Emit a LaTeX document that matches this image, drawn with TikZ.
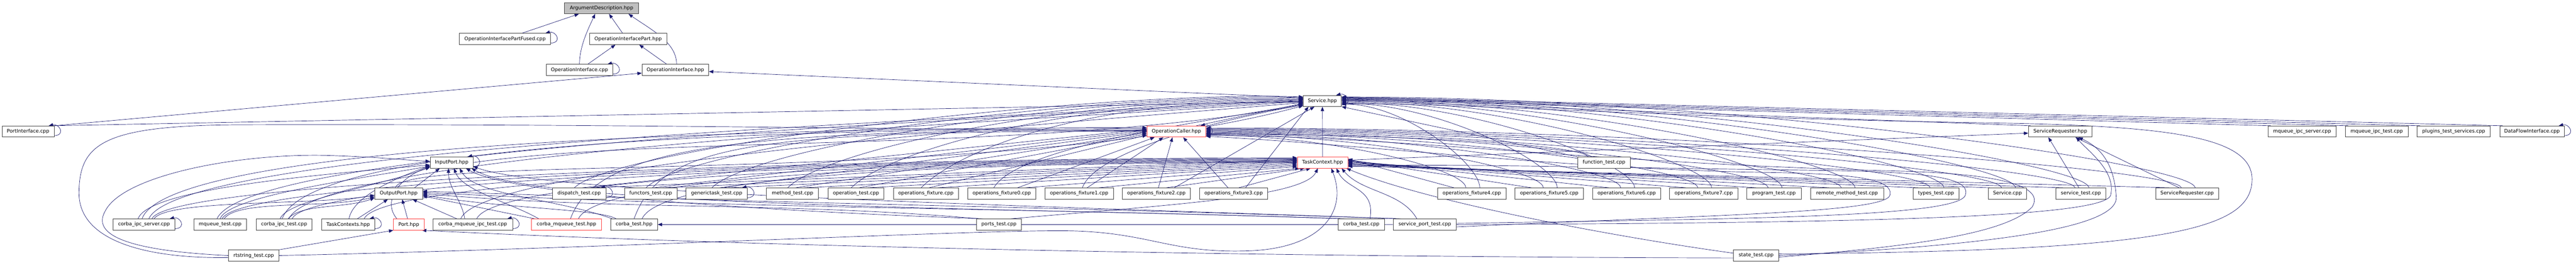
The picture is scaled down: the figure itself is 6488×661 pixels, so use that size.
\documentclass[tikz,border=0pt]{standalone}
\usepackage{fontspec}
\newfontfamily\dvs{DejaVu Sans}
\usetikzlibrary{arrows.meta}
\definecolor{edgeblue}{RGB}{25,25,112}
\definecolor{boxred}{RGB}{255,60,60}
\pgfdeclarelayer{bg}
\pgfsetlayers{bg,main}
\newcommand\Ln[2]{\draw[dep] (#1) -- (#2);}
\newcommand\Cv[6]{\draw[dep] (#1) .. controls +(#2:#4) and +(#3:#5) .. (#6);}
\newcommand\Lp[1]{\draw[dep] ([yshift=4]#1.south east) .. controls +(30,2) and +(26,6) .. ([xshift=-14]#1.north east);}
\begin{document}
\begin{tikzpicture}[x=1pt,y=1pt,
  nd/.style={draw=black!75,line width=1.1pt,fill=white,minimum height=28pt,inner sep=0pt,font=\dvs\fontsize{12.4}{14}\selectfont},
  hotbox/.style={draw=boxred},
  rootbox/.style={fill=gray!50},
  dep/.style={draw=edgeblue,line width=0.9pt,-{Triangle[length=11pt,width=8.5pt]}}]
\useasboundingbox (0,0) rectangle (6488,661);
% ---------------- nodes ----------------
\node[nd,rootbox,minimum width=186] (argdesc) at (1515,640.5) {ArgumentDescription.hpp};
\node[nd,minimum width=230] (oipfused) at (1272,563) {OperationInterfacePartFused.cpp};
\node[nd,minimum width=194] (oipart) at (1582,563) {OperationInterfacePart.hpp};
\node[nd,minimum width=168] (oicpp) at (1459.5,485) {OperationInterface.cpp};
\node[nd,minimum width=168] (oihpp) at (1701,485) {OperationInterface.hpp};
\node[nd,minimum width=96] (service) at (3330.6,407) {Service.hpp};
\node[nd,minimum width=131] (portif) at (70.7,330) {PortInterface.cpp};
\node[nd,hotbox,minimum width=148] (opcaller) at (2963,330) {OperationCaller.hpp};
\node[nd,minimum width=160] (srhpp) at (5189,330) {ServiceRequester.hpp};
\node[nd,minimum width=172] (mqipcserver) at (5798,330) {mqueue\_ipc\_server.cpp};
\node[nd,minimum width=158] (mqipctest) at (5986,330) {mqueue\_ipc\_test.cpp};
\node[nd,minimum width=184] (plugins) at (6180,330) {plugins\_test\_services.cpp};
\node[nd,minimum width=162] (dfi) at (6377,330) {DataFlowInterface.cpp};
\node[nd,minimum width=108] (inputport) at (1137.5,252) {InputPort.hpp};
\node[nd,hotbox,minimum width=127] (taskcontext) at (3331,252) {TaskContext.hpp};
\node[nd,minimum width=133] (functiontest) at (4040,252) {function\_test.cpp};
\node[nd,minimum width=120] (outputport) at (1004,174) {OutputPort.hpp};
\node[nd,minimum width=135] (dispatch) at (1458.7,174) {dispatch\_test.cpp};
\node[nd,minimum width=132] (functors) at (1639,174) {functors\_test.cpp};
\node[nd,minimum width=155] (generictask) at (1805,174) {generictask\_test.cpp};
\node[nd,minimum width=131] (method) at (1996,174) {method\_test.cpp};
\node[nd,minimum width=141] (operationtest) at (2156,174) {operation\_test.cpp};
\node[nd,minimum width=163] (opsfixture) at (2332,174) {operations\_fixture.cpp};
\node[nd,minimum width=172] (f0) at (2523,174) {operations\_fixture0.cpp};
\node[nd,minimum width=172] (f1) at (2718,174) {operations\_fixture1.cpp};
\node[nd,minimum width=172] (f2) at (2912.5,174) {operations\_fixture2.cpp};
\node[nd,minimum width=172] (f3) at (3107,174) {operations\_fixture3.cpp};
\node[nd,minimum width=172] (f4) at (3707,174) {operations\_fixture4.cpp};
\node[nd,minimum width=172] (f5) at (3902,174) {operations\_fixture5.cpp};
\node[nd,minimum width=172] (f6) at (4097,174) {operations\_fixture6.cpp};
\node[nd,minimum width=172] (f7) at (4291,174) {operations\_fixture7.cpp};
\node[nd,minimum width=137] (program) at (4468,174) {program\_test.cpp};
\node[nd,minimum width=184] (remote) at (4652,174) {remote\_method\_test.cpp};
\node[nd,minimum width=116] (types) at (4876,174) {types\_test.cpp};
\node[nd,minimum width=96] (servicecpp) at (5056,174) {Service.cpp};
\node[nd,minimum width=126] (servicetest) at (5241,174) {service\_test.cpp};
\node[nd,minimum width=159] (srcpp) at (5508.5,174) {ServiceRequester.cpp};
\node[nd,minimum width=156] (ipcserver) at (362.7,96) {corba\_ipc\_server.cpp};
\node[nd,minimum width=133] (mqtest) at (554.4,96) {mqueue\_test.cpp};
\node[nd,minimum width=141] (ipctest) at (715.6,96) {corba\_ipc\_test.cpp};
\node[nd,minimum width=134] (taskcontexts) at (877,96) {TaskContexts.hpp};
\node[nd,hotbox,minimum width=77] (porthpp) at (1029.6,96) {Port.hpp};
\node[nd,minimum width=201] (cmqipc) at (1190.6,96) {corba\_mqueue\_ipc\_test.cpp};
\node[nd,hotbox,minimum width=177] (cmqtesthpp) at (1426.8,96) {corba\_mqueue\_test.hpp};
\node[nd,minimum width=118] (corbatesthpp) at (1597,96) {corba\_test.hpp};
\node[nd,minimum width=113] (portstest) at (2516,96) {ports\_test.cpp};
\node[nd,minimum width=116] (corbatestcpp) at (3428.6,96) {corba\_test.cpp};
\node[nd,minimum width=159] (sptest) at (3588.6,96) {service\_port\_test.cpp};
\node[nd,minimum width=127] (rtstring) at (639,18) {rtstring\_test.cpp};
\node[nd,minimum width=114] (state) at (4423,18) {state\_test.cpp};
% ---------------- edges ----------------
\begin{pgfonlayer}{bg}
\fill[white] (0,0) rectangle (6488,661);
% top cluster
\Ln{[xshift=43]oipfused.north}{[xshift=-57]argdesc.south}
\Cv{oicpp.north}{90}{-115}{45}{40}{[xshift=-16]argdesc.south}
\Ln{[xshift=-14]oipart.north}{[xshift=19]argdesc.south}
\Cv{[xshift=3]oihpp.north}{90}{-35}{55}{70}{[xshift=68]argdesc.south}
\Ln{[xshift=21]oicpp.north}{[xshift=-32]oipart.south}
\Ln{[xshift=-22]oihpp.north}{[xshift=28]oipart.south}
\Ln{portif.north east}{[yshift=-8]oihpp.west}
\Ln{[yshift=8]service.west}{[yshift=-4]oihpp.east}
% self loops
\foreach \n in {portif,oipfused,oicpp,service,opcaller,inputport,dispatch,generictask,ipcserver,taskcontexts,cmqipc,dfi} {\Lp{\n}}
% includers of Service.hpp
\Ln{[xshift=-4]portif.north east}{[yshift=-2]service.west}
\Ln{[xshift=50]opcaller.north}{[yshift=-6]service.west}
\Cv{inputport.east}{8}{190}{500}{700}{[yshift=-10]service.west}
\Cv{[xshift=-8]outputport.north}{80}{195}{90}{800}{[yshift=-12]service.west}
\Ln{taskcontext.north}{service.south}
\Ln{functiontest.north west}{service.south east}
\Ln{[xshift=6]srhpp.north west}{[yshift=2]service.east}
\Ln{[xshift=8]mqipcserver.north west}{[yshift=4]service.east}
\Ln{[xshift=8]mqipctest.north west}{[yshift=6]service.east}
\Ln{[xshift=8]plugins.north west}{[yshift=8]service.east}
\Ln{[xshift=8]dfi.north west}{[yshift=10]service.east}
\Cv{[xshift=12]ipcserver.north}{65}{185}{220}{500}{[yshift=6]service.west}
\Cv{[xshift=-8]mqtest.north}{65}{185}{220}{500}{[yshift=3]service.west}
\Cv{[xshift=12]ipctest.north}{65}{185}{200}{500}{[yshift=0]service.west}
\Cv{[xshift=-30]cmqipc.north}{70}{185}{150}{500}{[yshift=-4]service.west}
% left row-6 tests
\foreach \n/\ya/\yb/\yc in {dispatch/8/6/10, functors/5/3/7, generictask/2/0/4, method/-1/-3/1, operationtest/-4/-6/-2, opsfixture/-7/-9/-5} {
 \Ln{[xshift=30]\n.north}{[yshift=\ya]taskcontext.west}
 \Ln{[xshift=8]\n.north}{[yshift=\yb]opcaller.west}
 \Cv{[xshift=-12]\n.north}{45}{178}{150}{500}{[yshift=\yc]service.west}
}
\Ln{[xshift=60]f0.north}{[yshift=-10]taskcontext.west}
\Ln{[xshift=40]f0.north}{[xshift=-55]opcaller.south}
\Cv{[xshift=-20]f0.north}{60}{190}{120}{250}{[yshift=-8]service.west}
\Ln{[xshift=50]f1.north}{[xshift=-58]taskcontext.south}
\Ln{[xshift=20]f1.north}{[xshift=-33]opcaller.south}
\Cv{[xshift=8]f1.north}{70}{190}{100}{200}{[yshift=-10]service.west}
\Ln{[xshift=5]f2.north}{[xshift=-10]opcaller.south}
\Ln{[xshift=25]f2.north}{[xshift=-45]taskcontext.south}
\Ln{[xshift=45]f2.north}{[xshift=-20]service.south}
\Ln{[xshift=-14]f3.north}{[xshift=17]opcaller.south}
\Ln{[xshift=13]f3.north}{[xshift=-30]taskcontext.south}
\Ln{[xshift=30]f3.north}{[xshift=-35]service.south}
% right row-6 tests
\foreach \n/\ds/\dc/\ys/\yc/\yt in {f4/157/295/-8/-9/9, f5/244/383/-6/-7/7, f6/332/470/-4/-5/5, f7/419/558/-2/-3/3, program/499/637/0/-1/1, remote/582/720/2/1/-1, types/683/821/4/3/-3, servicecpp/764/902/6/5/-5, servicetest/847/985/8/7/-7, srcpp/967/1105/10/9/-9} {
 \Cv{[xshift=20]\n.north}{90}{0}{60}{\ds}{[yshift=\ys]service.east}
 \Cv{[xshift=-15]\n.north}{92}{0}{50}{\dc}{[yshift=\yc]opcaller.east}
 \Ln{[xshift=-45]\n.north}{[yshift=\yt]taskcontext.east}
}
\Cv{[xshift=-40]functiontest.north}{120}{0}{40}{400}{[yshift=-6]opcaller.east}
% left row-7 group to TaskContext / OperationCaller
\foreach \n/\s/\ys in {ipcserver/20/12, mqtest/5/10, ipctest/20/8, taskcontexts/40/6, cmqipc/10/4, cmqtesthpp/30/2, corbatesthpp/20/0} {
 \Cv{[xshift=\s]\n.north}{65}{180}{120}{900}{[yshift=\ys]taskcontext.west}
}
\foreach \n/\s/\ys in {ipcserver/-5/10, ipctest/-5/7, cmqtesthpp/10/4, corbatesthpp/0/1} {
 \Cv{[xshift=\s]\n.north}{70}{180}{200}{1000}{[yshift=\ys]opcaller.west}
}
% includers of InputPort.hpp
\Cv{[xshift=-15]ipcserver.north}{70}{185}{80}{300}{[yshift=-6]inputport.west}
\Cv{mqtest.north}{70}{190}{60}{200}{[yshift=-9]inputport.west}
\Cv{[xshift=-10]ipctest.north}{70}{200}{50}{150}{[yshift=-12]inputport.west}
\Cv{[xshift=2]taskcontexts.north}{80}{200}{60}{80}{[yshift=-8]inputport.west}
\Cv{[xshift=-30]porthpp.north}{130}{200}{60}{80}{[yshift=-10]inputport.west}
\Ln{[xshift=40]outputport.north}{[xshift=-30]inputport.south}
\Cv{[xshift=-20]cmqipc.north}{100}{-90}{50}{50}{[xshift=-8]inputport.south}
\Cv{[xshift=-70]cmqtesthpp.north}{150}{-70}{80}{60}{[xshift=6]inputport.south}
\Cv{[xshift=-55]corbatesthpp.north}{160}{-60}{150}{80}{[xshift=20]inputport.south}
\Cv{[xshift=-40]portstest.north}{178}{-30}{400}{150}{[xshift=36]inputport.south}
\Cv{[xshift=-40]corbatestcpp.north}{178}{-30}{800}{200}{[xshift=50]inputport.south}
\Cv{[xshift=-60]sptest.north}{178}{-20}{1000}{200}{[yshift=-10]inputport.east}
% includers of OutputPort.hpp
\Cv{[xshift=25]ipcserver.north}{55}{190}{60}{150}{[yshift=-4]outputport.west}
\Cv{[xshift=10]mqtest.north}{55}{195}{60}{120}{[yshift=-8]outputport.west}
\Cv{[xshift=10]ipctest.north}{50}{200}{50}{80}{[yshift=-11]outputport.west}
\Ln{[xshift=23]taskcontexts.north}{[xshift=-27]outputport.south}
\Ln{[xshift=-3]porthpp.north}{[xshift=9]outputport.south}
\Ln{[xshift=-40]cmqipc.north}{[xshift=35]outputport.south}
\Ln{[xshift=-80]cmqtesthpp.north}{[yshift=-6]outputport.east}
\Cv{[xshift=-45]corbatesthpp.north}{150}{-10}{50}{200}{[yshift=-3]outputport.east}
\Cv{[xshift=-50]portstest.north}{175}{-5}{500}{500}{[yshift=0]outputport.east}
\Cv{[xshift=-50]corbatestcpp.north}{178}{-3}{800}{800}{[yshift=3]outputport.east}
\Cv{[xshift=-70]sptest.north}{178}{-2}{900}{900}{[yshift=6]outputport.east}
% TaskContext from below
\Cv{[xshift=30]portstest.north}{5}{-115}{400}{80}{[xshift=-12]taskcontext.south}
\Cv{[xshift=22]corbatestcpp.north}{80}{-65}{80}{60}{[xshift=35]taskcontext.south}
\Cv{[xshift=-20]sptest.north}{120}{-50}{80}{80}{[xshift=48]taskcontext.south}
\draw[dep] ([yshift=6]state.west) .. controls (4100,60) and (3600,150) .. ([xshift=-4]taskcontext.south east);
\draw[dep] (rtstring.east) .. controls (1500,35) and (2500,85) .. (2700,80) .. controls (2900,75) and (2950,22) .. (3150,30) .. controls (3330,38) and (3395,130) .. ([xshift=22]taskcontext.south);
% misc
\Ln{corbatestcpp.west}{corbatesthpp.east}
\Ln{[yshift=6]taskcontext.east}{[yshift=-4]srhpp.west}
\Ln{[xshift=-5]servicetest.north}{[xshift=-30]srhpp.south}
\Ln{[xshift=-20]srcpp.north}{[xshift=38]srhpp.south}
\draw[dep] (state.east) .. controls (4950,40) and (5335,80) .. (5330,165) .. controls (5325,250) and (5290,290) .. ([xshift=46]srhpp.south);
\draw[dep] (sptest.east) .. controls (4600,100) and (5300,110) .. (5316,170) .. controls (5330,230) and (5260,280) .. ([xshift=40]srhpp.south);
\draw[dep] ([yshift=4]state.east) .. controls (5450,30) and (5672,80) .. (5672,210) .. controls (5672,320) and (5450,345) .. (5000,352) .. controls (4200,365) and (3600,405) .. ([yshift=-8]service.east);
\draw[dep] ([yshift=-4]state.east) .. controls (4800,40) and (5050,70) .. (5118,140) .. controls (5150,190) and (5050,222) .. (4800,230) .. controls (4000,250) and (3500,320) .. ([yshift=-10]opcaller.east);
\draw[dep] ([yshift=-6]state.west) .. controls (3000,15) and (1800,45) .. ([xshift=-6]porthpp.south east);
\Ln{rtstring.north east}{porthpp.south west}
\draw[dep] (rtstring.west) .. controls (320,30) and (230,70) .. (265,130) .. controls (310,220) and (600,275) .. (820,270) .. controls (960,266) and (1020,258) .. ([yshift=3]inputport.west);
\draw[dep] ([yshift=-5]rtstring.west) .. controls (380,10) and (200,50) .. (199,174) .. controls (199,300) and (260,345) .. (600,347) .. controls (1600,350) and (2500,332) .. ([yshift=2]opcaller.west);
\draw[dep] (corbatestcpp.east) .. controls (4300,110) and (4930,110) .. (4950,170) .. controls (4965,215) and (4850,228) .. (4600,232) .. controls (4000,240) and (3600,250) .. ([yshift=-10]taskcontext.east);
\draw[dep] ([yshift=-6]sptest.east) .. controls (4300,120) and (4750,125) .. (4760,170) .. controls (4770,215) and (4650,225) .. (4400,228) .. controls (3900,240) and (3400,300) .. ([yshift=-12]opcaller.east);
\end{pgfonlayer}
\end{tikzpicture}
\end{document}
